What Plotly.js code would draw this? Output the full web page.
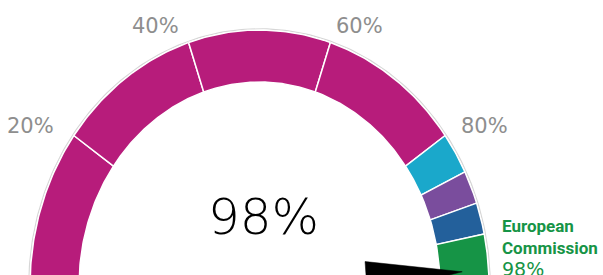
<!DOCTYPE html>
<html>
<head>
<meta charset="utf-8">
<script src="https://cdn.plot.ly/plotly-3.0.1.min.js"></script>
<style>html,body{margin:0;padding:0;background:#fff;}#chart{width:603px;height:275px;}</style>
</head>
<body>
<div id="chart"></div>
<script>
// ---- data ----
const bandStarts = [0, 20, 40, 60, 80, 85.3, 89.5, 93.5];
const bandEnds   = [20, 40, 60, 80, 85.3, 89.5, 93.5, 100];
const tickValues = [20, 40, 60, 80];
const tickLabels = ['20%', '40%', '60%', '80%'];
const scoreValue = 98;
const scoreLabel = '98%';
const institutionLines = ['European', 'Commission'];

// ---- styles / geometry ----
const bandColors = ['#B71C7B','#B71C7B','#B71C7B','#B71C7B','#1AA8CB','#7A4D9D','#23609B','#169446'];
const CX = 259.5, CY = 286;
const A_OUT = 229.5, B_OUT = 256, A_IN = 180.5, B_IN = 204;

function ang(v){ return Math.PI * (1 - v/100); }
function pt(v, a, b){ const t = ang(v); return [a*Math.cos(t), b*Math.sin(t)]; }

const traces = [];
(function(){
  const xs=[], ys=[];
  for(let i=0;i<=200;i++){ const v=i/2; const p=pt(v,A_OUT+1.2,B_OUT+1.2); xs.push(p[0]); ys.push(p[1]); }
  traces.push({x:xs,y:ys,type:'scatter',mode:'lines',line:{color:'#d6d6d6',width:1.3},hoverinfo:'skip',showlegend:false});
})();
bandStarts.forEach((s,i)=>{
  const e = bandEnds[i];
  const xs=[], ys=[];
  const N=60;
  for(let k=0;k<=N;k++){ const v=s+(e-s)*k/N; const p=pt(v,A_OUT,B_OUT); xs.push(p[0]); ys.push(p[1]); }
  for(let k=N;k>=0;k--){ const v=s+(e-s)*k/N; const p=pt(v,A_IN,B_IN); xs.push(p[0]); ys.push(p[1]); }
  xs.push(xs[0]); ys.push(ys[0]);
  traces.push({x:xs,y:ys,type:'scatter',mode:'lines',fill:'toself',fillcolor:bandColors[i],
    line:{color:'#ffffff',width:1.5},hoverinfo:'skip',showlegend:false});
});

// needle
(function(){
  const t = ang(scoreValue);
  const ux = A_OUT*Math.cos(t), uy = B_OUT*Math.sin(t);
  const L = Math.hypot(ux,uy); const dx=ux/L, dy=uy/L;
  const tip = [0.885*ux, 0.885*uy];
  const base = [0.466*ux, 0.466*uy];
  const w = 17;
  const nx=-dy*w, ny=dx*w;
  traces.push({x:[base[0]+nx, tip[0], base[0]-nx, base[0]+nx], y:[base[1]+ny, tip[1], base[1]-ny, base[1]+ny],
    type:'scatter',mode:'lines',fill:'toself',fillcolor:'#000',line:{color:'#000',width:0.5},hoverinfo:'skip',showlegend:false});
})();

const annotations = [];
tickValues.forEach((v,i)=>{
  const p = pt(v, A_OUT*1.085, B_OUT*1.075);
  annotations.push({x:p[0]-2, y:p[1]-2, xref:'x', yref:'y', text:tickLabels[i], showarrow:false,
    xanchor: v<50 ? 'right' : 'left', yanchor:'middle',
    font:{family:'DejaVu Sans, sans-serif', size:21, color:'#8e8e8e'}});
});
annotations.push({x:3.5, y:69, xref:'x', yref:'y', text:scoreLabel, showarrow:false, xanchor:'center', yanchor:'middle',
  font:{family:'DejaVu Sans, sans-serif', size:50, color:'#000', weight:200}});
annotations.push({x:240, y:72, xref:'x', yref:'y',
  text:'<b>'+institutionLines.join('<br>')+'</b><br><span style="font-family:DejaVu Sans;font-size:19px">'+scoreLabel+'</span>',
  showarrow:false, xanchor:'left', yanchor:'top', align:'left',
  font:{family:'Roboto, sans-serif', size:17, color:'#169446'}});

const layout = {
  width:603, height:275, margin:{l:0,r:0,t:0,b:0},
  paper_bgcolor:'#fff', plot_bgcolor:'#fff', showlegend:false,
  xaxis:{range:[-CX, 603-CX], visible:false, fixedrange:true},
  yaxis:{range:[CY-275, CY], visible:false, fixedrange:true},
  annotations: annotations
};
Plotly.newPlot('chart', traces, layout, {displayModeBar:false, staticPlot:true});
</script>
</body>
</html>
